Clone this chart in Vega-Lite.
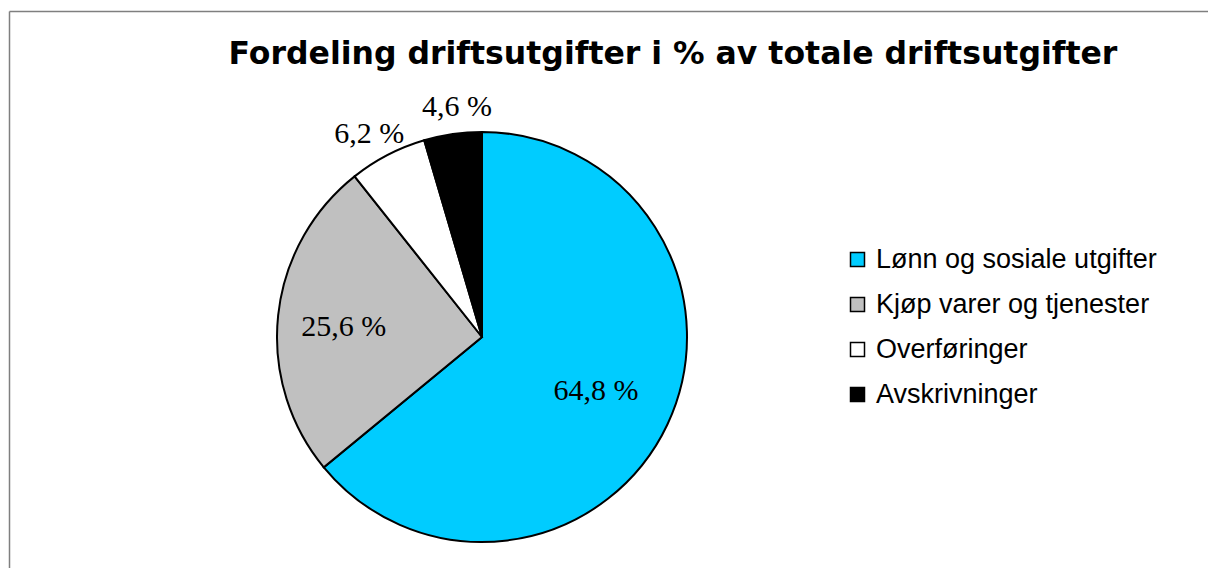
{
  "$schema": "https://vega.github.io/schema/vega-lite/v6.json",
  "width": 946,
  "height": 462,
  "autosize": {"type": "none"},
  "padding": {"left": 9, "top": 106, "right": 253, "bottom": 0},
  "background": "white",
  "title": {
    "text": "Fordeling driftsutgifter i % av totale driftsutgifter",
    "font": "DejaVu Sans",
    "fontSize": 31.5,
    "fontWeight": "bold",
    "color": "black",
    "anchor": "middle",
    "frame": "group",
    "baseline": "alphabetic",
    "offset": 0,
    "dx": 191,
    "dy": 84
  },
  "data": {
    "values": [
      {"post": "Lønn og sosiale utgifter", "pct": 64.8, "label": "64,8 %", "rank": 1},
      {"post": "Kjøp varer og tjenester", "pct": 25.6, "label": "25,6 %", "rank": 2},
      {"post": "Overføringer", "pct": 6.2, "label": "6,2 %", "rank": 3},
      {"post": "Avskrivninger", "pct": 4.6, "label": "4,6 %", "rank": 4}
    ]
  },
  "layer": [
    {
      "mark": {"type": "point", "opacity": 0},
      "encoding": {
        "x": {
          "field": "pct", "type": "quantitative",
          "scale": {"range": [0, 1300]},
          "axis": {"orient": "top", "offset": 95, "domainColor": "#7f7f7f", "domainWidth": 1.5, "ticks": false, "labels": false, "grid": false, "title": null}
        },
        "y": {
          "field": "post", "type": "nominal",
          "scale": {"range": [-95, 560]},
          "axis": {"orient": "left", "domainColor": "#7f7f7f", "domainWidth": 1.5, "ticks": false, "labels": false, "grid": false, "title": null}
        }
      }
    },
    {
      "mark": {"type": "arc", "outerRadius": 205, "stroke": "black", "strokeWidth": 2},
      "encoding": {
        "theta": {"field": "pct", "type": "quantitative", "stack": true},
        "order": {"field": "rank", "type": "ordinal"},
        "color": {
          "field": "post", "type": "nominal",
          "scale": {
            "domain": ["Lønn og sosiale utgifter", "Kjøp varer og tjenester", "Overføringer", "Avskrivninger"],
            "range": ["#00CCFF", "#C0C0C0", "#FFFFFF", "#000000"]
          },
          "legend": {
            "orient": "none",
            "legendX": 835,
            "legendY": 140,
            "title": null,
            "symbolType": "square",
            "symbolSize": 196,
            "symbolStrokeColor": "black",
            "symbolStrokeWidth": 1.5,
            "symbolOpacity": 1,
            "labelFont": "Liberation Sans",
            "labelFontSize": 27,
            "labelColor": "black",
            "labelLimit": 0,
            "labelOffset": 5,
            "rowPadding": 17
          }
        }
      }
    },
    {
      "mark": {"type": "text", "radius": 126, "font": "Liberation Serif", "fontSize": 30, "color": "black", "baseline": "middle"},
      "encoding": {
        "theta": {"field": "pct", "type": "quantitative", "stack": true},
        "order": {"field": "rank", "type": "ordinal"},
        "text": {"condition": {"test": "datum.rank == 1", "field": "label", "type": "nominal"}, "value": ""}
      }
    },
    {
      "mark": {"type": "text", "radius": 126, "dx": -13, "dy": 3, "font": "Liberation Serif", "fontSize": 30, "color": "black", "baseline": "middle"},
      "encoding": {
        "theta": {"field": "pct", "type": "quantitative", "stack": true},
        "order": {"field": "rank", "type": "ordinal"},
        "text": {"condition": {"test": "datum.rank == 2", "field": "label", "type": "nominal"}, "value": ""}
      }
    },
    {
      "mark": {"type": "text", "radius": 232, "dx": 8, "font": "Liberation Serif", "fontSize": 30, "color": "black", "baseline": "middle"},
      "encoding": {
        "theta": {"field": "pct", "type": "quantitative", "stack": true},
        "order": {"field": "rank", "type": "ordinal"},
        "text": {"condition": {"test": "datum.rank == 4", "field": "label", "type": "nominal"}, "value": ""}
      }
    },
    {
      "mark": {"type": "text", "radius": 232, "dx": -6, "dy": 3, "font": "Liberation Serif", "fontSize": 30, "color": "black", "baseline": "middle"},
      "encoding": {
        "theta": {"field": "pct", "type": "quantitative", "stack": true},
        "order": {"field": "rank", "type": "ordinal"},
        "text": {"condition": {"test": "datum.rank == 3", "field": "label", "type": "nominal"}, "value": ""}
      }
    }
  ],
  "config": {"view": {"stroke": null}}
}
